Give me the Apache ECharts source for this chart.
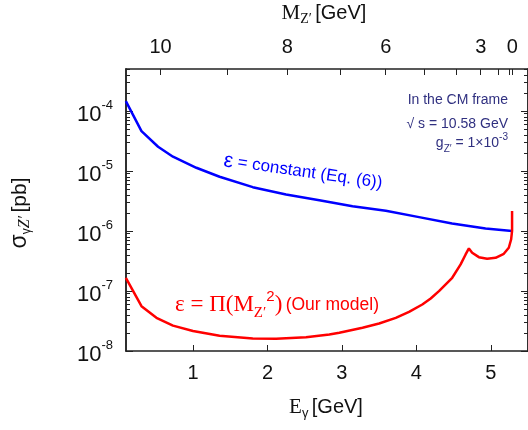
<!DOCTYPE html>
<html>
<head>
<meta charset="utf-8">
<script src="https://cdn.jsdelivr.net/npm/echarts@6/dist/echarts.min.js"></script>
<style>
  html, body { margin: 0; padding: 0; background: #fff; }
  #chart { width: 528px; height: 430px; }
</style>
</head>
<body>
<div id="chart"></div>
<script>
// centre of mass energy [GeV]
const sqrtS = 10.58;

// epsilon = constant (Eq. (6)) : photon energy [GeV] / cross section [pb]
const blueE = [0.098, 0.308, 0.531, 0.731, 1.045, 1.357, 1.803, 2.25, 2.697, 3.143, 3.59, 4.036, 4.48, 4.93, 5.286];
const blueSigma = [1.46e-4, 4.6e-5, 2.53e-5, 1.73e-5, 1.13e-5, 8.0e-6, 5.37e-6, 4.06e-6, 3.26e-6, 2.59e-6, 2.17e-6, 1.7e-6, 1.33e-6, 1.1e-6, 1.0e-6];

// epsilon = Pi(M^2) (our model)
const redE = [0.098, 0.308, 0.509, 0.731, 1.0, 1.357, 1.803, 2.116, 2.518, 2.831, 2.965, 3.277, 3.5, 3.724, 3.902, 4.08, 4.193, 4.304, 4.482, 4.595, 4.662, 4.706, 4.75, 4.84, 4.951, 5.064, 5.175, 5.242, 5.273, 5.286, 5.286];
const redSigma = [1.66e-7, 5.58e-8, 3.57e-8, 2.65e-8, 2.15e-8, 1.79e-8, 1.62e-8, 1.6e-8, 1.7e-8, 1.88e-8, 2.01e-8, 2.44e-8, 2.87e-8, 3.57e-8, 4.5e-8, 5.96e-8, 7.5e-8, 9.93e-8, 1.66e-7, 2.77e-7, 4.06e-7, 5.11e-7, 4.33e-7, 3.66e-7, 3.44e-7, 3.57e-7, 4.17e-7, 5.25e-7, 7.2e-7, 1.0e-6, 2.15e-6];

// axes
const bottomTicks = [1, 2, 3, 4, 5];
const topLabelMasses = [10, 8, 6, 3, 0];
const topTickMasses = [0, 1, 2, 3, 4, 5, 6, 7, 8, 9, 10];
const yMajor = [1e-8, 1e-7, 1e-6, 1e-5, 1e-4];

const xMin = 0.1, xMax = 5.5, yMin = 1e-8, yMax = 5e-4;

// photon energy for a given Z' mass
function massToE(m) {
    return (sqrtS * sqrtS - m * m) / (2 * sqrtS);
}

const yMinor = [];
yMajor.forEach(d => {
    for (let k = 2; k <= 9; k++) {
        if (k * d <= yMax) yMinor.push(k * d);
    }
});

const frame = { lineStyle: { color: '#222', width: 1.5 } };
const sans = 'Liberation Sans';
const serif = 'Liberation Serif';
const navy = '#303080';

function yAxisDef(pos, minor) {
    return {
        type: 'log', position: pos, min: yMin, max: yMax, logBase: 10,
        axisLine: { show: true, onZero: false, lineStyle: frame.lineStyle },
        splitLine: { show: false },
        axisTick: {
            show: true, inside: true, length: minor ? 4 : 7,
            customValues: minor ? yMinor : yMajor,
            lineStyle: { color: '#222', width: 1 }
        },
        axisLabel: {
            show: pos === 'left' && !minor,
            customValues: yMajor,
            margin: 13,
            formatter: v => '{b|10}{s|' + Math.round(Math.log10(v)) + '}',
            rich: {
                b: { fontFamily: sans, fontSize: 22, color: '#111', lineHeight: 30, verticalAlign: 'bottom' },
                s: { fontFamily: sans, fontSize: 13, color: '#111', lineHeight: 30, verticalAlign: 'top', padding: [3, 0, 0, 0] }
            }
        }
    };
}

const chart = echarts.init(document.getElementById('chart'));

const option = {
    animation: false,
    backgroundColor: '#fff',
    grid: { left: 126, top: 69, right: -1, bottom: 79 },
    xAxis: [
        {
            type: 'value', position: 'bottom', min: xMin, max: xMax,
            axisLine: { show: true, onZero: false, lineStyle: frame.lineStyle },
            splitLine: { show: false },
            axisTick: { show: true, inside: true, length: 6, customValues: bottomTicks, lineStyle: { color: '#222' } },
            axisLabel: { customValues: bottomTicks, margin: 12, fontFamily: sans, fontSize: 20, color: '#111' }
        },
        {
            type: 'value', position: 'top', min: xMin, max: xMax,
            axisLine: { show: true, onZero: false, lineStyle: frame.lineStyle },
            splitLine: { show: false },
            axisTick: { show: true, inside: true, length: 6, customValues: topTickMasses.map(massToE), lineStyle: { color: '#222' } },
            axisLabel: {
                customValues: topLabelMasses.map(massToE), margin: 12,
                fontFamily: sans, fontSize: 20, color: '#111',
                formatter: v => {
                    const m = topLabelMasses.find(mm => Math.abs(massToE(mm) - v) < 1e-6);
                    return m === undefined ? '' : String(m);
                }
            }
        }
    ],
    yAxis: [
        yAxisDef('left', false),
        yAxisDef('left', true),
        yAxisDef('right', false),
        yAxisDef('right', true)
    ],
    series: [
        {
            name: 'constant',
            type: 'line',
            data: blueE.map((e, i) => [e, blueSigma[i]]),
            showSymbol: false,
            lineStyle: { color: '#0000ff', width: 2.5 },
            z: 3
        },
        {
            name: 'model',
            type: 'line',
            data: redE.map((e, i) => [e, redSigma[i]]),
            showSymbol: false,
            lineStyle: { color: '#ff0000', width: 2.5 },
            z: 3
        }
    ],
    graphic: [
        // axis titles
        {
            type: 'text', x: 324, y: 13,
            style: {
                text: '{m|M}{sub|Z′} {n|[GeV]}',
                align: 'center', verticalAlign: 'middle',
                rich: {
                    m: { fontFamily: serif, fontSize: 21, fill: '#111', lineHeight: 26 },
                    sub: { fontFamily: serif, fontSize: 14, fill: '#111', lineHeight: 26, verticalAlign: 'bottom' },
                    n: { fontFamily: sans, fontSize: 20, fill: '#111', lineHeight: 26 }
                }
            }
        },
        {
            type: 'text', x: 326, y: 407,
            style: {
                text: '{m|E}{sub|γ} {n|[GeV]}',
                align: 'center', verticalAlign: 'middle',
                rich: {
                    m: { fontFamily: serif, fontSize: 21, fill: '#111', lineHeight: 26 },
                    sub: { fontFamily: sans, fontSize: 13, fill: '#111', lineHeight: 26, verticalAlign: 'bottom' },
                    n: { fontFamily: sans, fontSize: 20, fill: '#111', lineHeight: 26 }
                }
            }
        },
        {
            type: 'text', x: 20, y: 213, rotation: Math.PI / 2,
            style: {
                text: '{m|σ}{sub|γ}{z|Z′} {n|[pb]}',
                align: 'center', verticalAlign: 'middle',
                rich: {
                    m: { fontFamily: sans, fontSize: 23, fill: '#111', lineHeight: 26 },
                    sub: { fontFamily: sans, fontSize: 12, fill: '#111', lineHeight: 26, verticalAlign: 'bottom' },
                    z: { fontFamily: serif, fontSize: 16, fontStyle: 'italic', fill: '#111', lineHeight: 26, verticalAlign: 'bottom' },
                    n: { fontFamily: sans, fontSize: 21, fill: '#111', lineHeight: 26 }
                }
            }
        },
        // frame note
        {
            type: 'text', x: 508, y: 100,
            style: { text: 'In the CM frame', align: 'right', verticalAlign: 'middle', fontFamily: sans, fontSize: 14, fill: navy }
        },
        {
            type: 'text', x: 508, y: 124,
            style: { text: '√ s = 10.58 GeV', align: 'right', verticalAlign: 'middle', fontFamily: sans, fontSize: 14, fill: navy }
        },
        {
            type: 'text', x: 508, y: 143,
            style: {
                text: '{n|g}{sub|Z′}{n| = 1×10}{sup|-3}',
                align: 'right', verticalAlign: 'middle',
                rich: {
                    n: { fontFamily: sans, fontSize: 14, fill: navy, lineHeight: 22 },
                    sub: { fontFamily: sans, fontSize: 10, fill: navy, lineHeight: 22, verticalAlign: 'bottom' },
                    sup: { fontFamily: sans, fontSize: 10, fill: navy, lineHeight: 22, verticalAlign: 'top' }
                }
            }
        },
        // curve labels
        {
            type: 'text', x: 303, y: 172, rotation: -0.143,
            style: {
                text: '{e|ε} = constant (Eq. (6))',
                align: 'center', verticalAlign: 'middle',
                fontFamily: sans, fontSize: 17, fill: '#0000ff',
                rich: { e: { fontFamily: sans, fontSize: 21, fill: '#0000ff' } }
            }
        },
        {
            type: 'text', x: 175, y: 305,
            style: {
                text: '{s|ε = Π(M}{sub|Z′}{sup|2}{s|)} {n|(Our model)}',
                align: 'left', verticalAlign: 'middle',
                rich: {
                    s: { fontFamily: serif, fontSize: 23, fill: '#ff0000', lineHeight: 32 },
                    sub: { fontFamily: serif, fontSize: 15, fill: '#ff0000', lineHeight: 32, verticalAlign: 'bottom' },
                    sup: { fontFamily: sans, fontSize: 15, fill: '#ff0000', lineHeight: 32, verticalAlign: 'top' },
                    n: { fontFamily: sans, fontSize: 17.5, fill: '#ff0000', lineHeight: 32 }
                }
            }
        }
    ]
};

chart.setOption(option);
</script>
</body>
</html>
